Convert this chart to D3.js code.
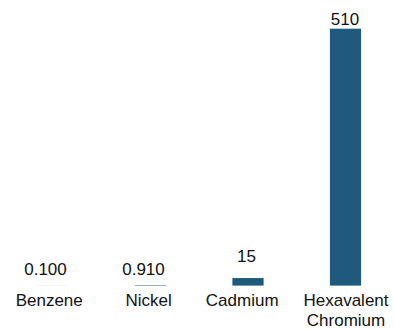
<!DOCTYPE html>
<html>
<head>
<meta charset="utf-8">
<script src="https://cdn.jsdelivr.net/npm/d3@7"></script>
<style>
html,body{margin:0;padding:0;background:#fff;}
svg{display:block;}
text{font-family:"Liberation Sans",Arial,sans-serif;fill:#111;}
</style>
</head>
<body>
<svg id="chart" width="394" height="329"></svg>
<script>
const categories = ["Benzene", "Nickel", "Cadmium", "Hexavalent Chromium"];
const values = [0.1, 0.91, 15, 510];
const valueLabels = ["0.100", "0.910", "15", "510"];

const svg = d3.select("#chart");
const x = d3.scaleBand().domain(categories).range([4.25, 394.25]).paddingInner(0.68).paddingOuter(0.34);
const y = d3.scaleLinear().domain([0, 510]).range([285.6, 28.7]);
// label placement tweaks (style, not data)
const labelGap = [10.5, 10.5, 15.6, 3.7];
const valueDx = [-7.5, -7, -1.5, -0.5];
const catDx = [-3.8, -1.8, -5.8, 0.5];

svg.selectAll("rect.bar").data(values).join("rect")
  .attr("class", "bar")
  .attr("x", (d, i) => x(categories[i]))
  .attr("width", x.bandwidth())
  .attr("y", d => y(d))
  .attr("height", d => y(0) - y(d))
  .attr("fill", "#1f5a7e");

svg.selectAll("text.val").data(values).join("text")
  .attr("class", "val")
  .attr("x", (d, i) => x(categories[i]) + x.bandwidth() / 2 + valueDx[i])
  .attr("y", (d, i) => y(d) - labelGap[i])
  .attr("text-anchor", "middle")
  .style("font-size", "17px")
  .text((d, i) => valueLabels[i]);

const axis = d3.axisBottom(x).tickSize(0).tickPadding(0);
const g = svg.append("g").attr("transform", `translate(0,${y(0)})`).call(axis);
g.select(".domain").remove();
g.selectAll(".tick text").remove();
g.selectAll(".tick").each(function(d, i) {
  const words = d === "Hexavalent Chromium" ? ["Hexavalent", "Chromium"] : [d];
  const t = d3.select(this).append("text")
    .attr("text-anchor", "middle")
    .style("font-size", "17px")
    .style("fill", "#111");
  words.forEach((w, k) => {
    t.append("tspan").attr("x", catDx[i]).attr("y", 20 + k * 20.3).text(w);
  });
});
</script>
</body>
</html>
